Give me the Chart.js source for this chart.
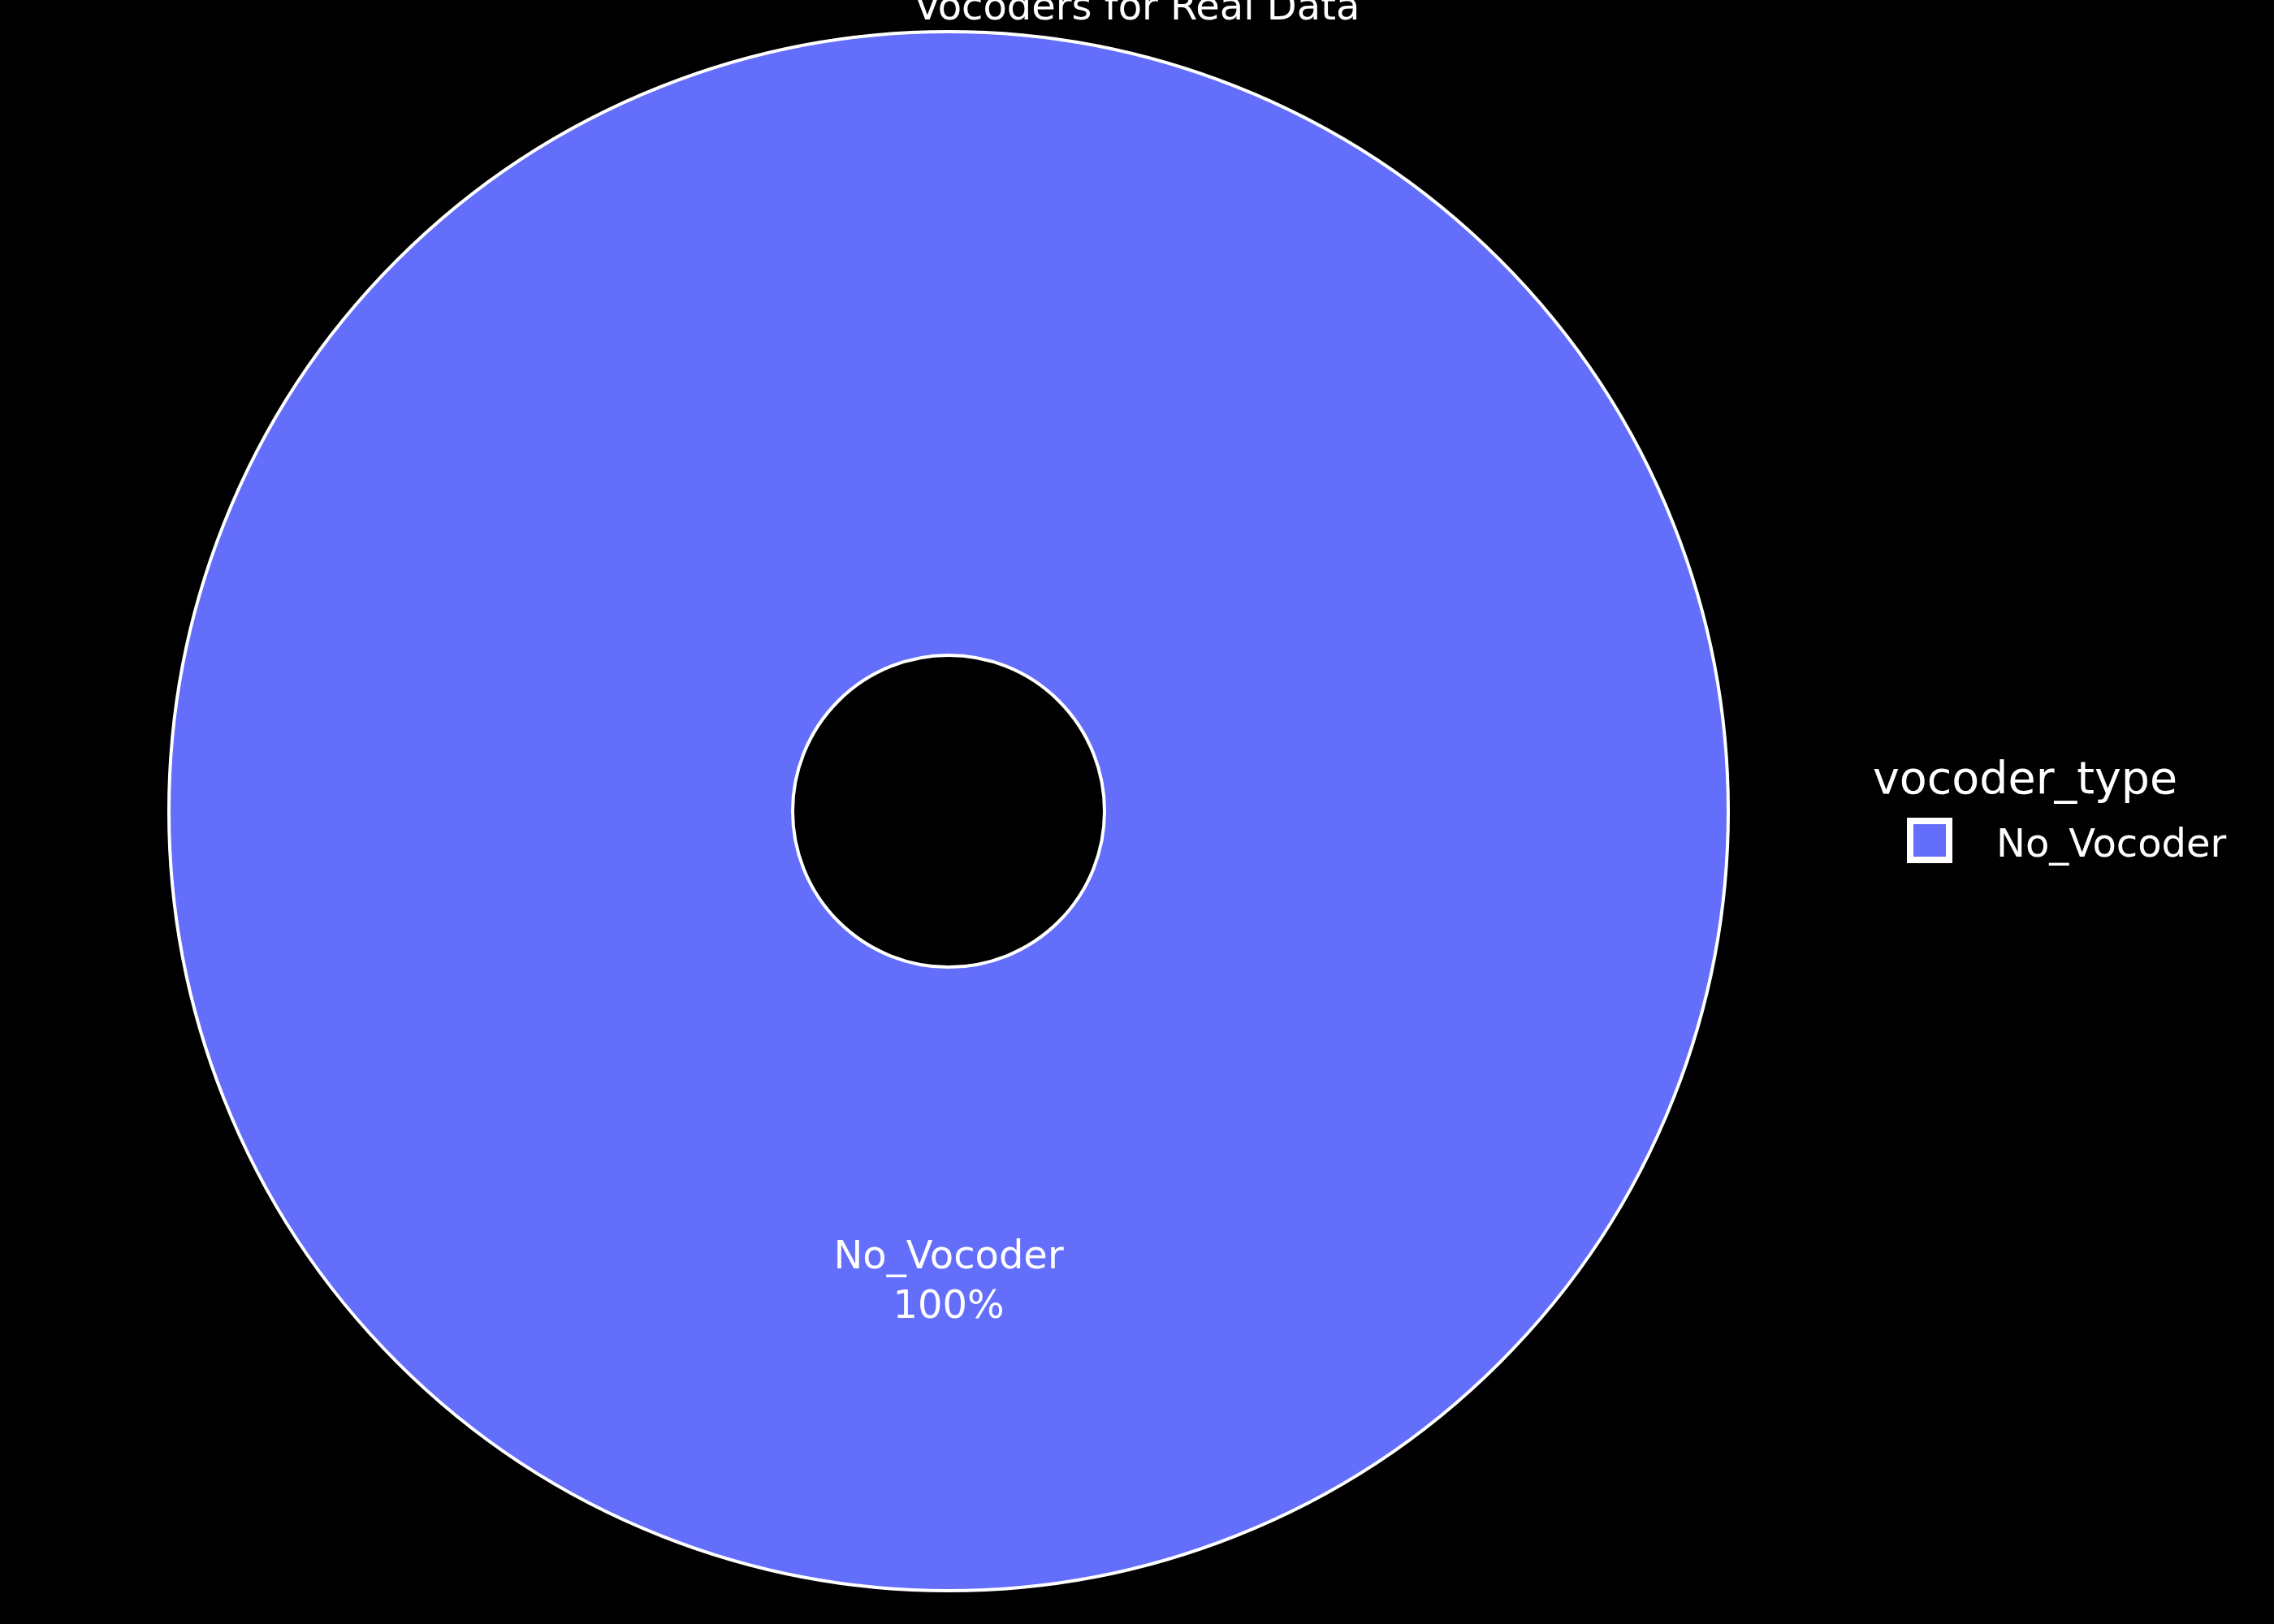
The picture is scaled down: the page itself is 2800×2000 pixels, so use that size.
<!DOCTYPE html>
<html>
<head>
<meta charset="utf-8">
<script src="https://cdn.jsdelivr.net/npm/chart.js@4"></script>
<style>
  html, body { margin: 0; padding: 0; background: #000; }
</style>
</head>
<body>
<canvas id="pieChart" width="2800" height="2000"></canvas>
<script>
const categories = ["No_Vocoder"];
const counts = [1];
const sliceColors = ["#636efa"];
const chartTitle = "Vocoders for Real Data";
const legendTitle = "vocoder_type";

const FONT = "'DejaVu Sans', sans-serif";

// white outline on the ring + slice text (label and percent)
const ringDecor = {
  id: "ringDecor",
  afterDatasetsDraw(chart) {
    const ctx = chart.ctx;
    const meta = chart.getDatasetMeta(0);
    const total = counts.reduce((a, b) => a + b, 0);
    ctx.save();
    meta.data.forEach((arc, i) => {
      ctx.strokeStyle = "#ffffff";
      ctx.lineWidth = 4;
      ctx.beginPath();
      ctx.arc(arc.x, arc.y, arc.outerRadius, 0, Math.PI * 2);
      ctx.stroke();
      ctx.beginPath();
      ctx.arc(arc.x, arc.y, arc.innerRadius, 0, Math.PI * 2);
      ctx.stroke();

      const p = arc.getCenterPoint();
      const pct = Math.round(counts[i] / total * 100) + "%";
      ctx.fillStyle = "#ffffff";
      ctx.font = "48px " + FONT;
      ctx.textAlign = "center";
      ctx.textBaseline = "alphabetic";
      ctx.fillText(categories[i], p.x, p.y - 13);
      ctx.fillText(pct, p.x, p.y + 48);
    });
    ctx.restore();
  }
};

// plotly-like title centred on the page and legend on the right
const pageText = {
  id: "pageText",
  afterDraw(chart) {
    const ctx = chart.ctx;
    const area = chart.chartArea;
    ctx.save();
    ctx.fillStyle = "#ffffff";
    ctx.textBaseline = "alphabetic";

    ctx.font = "48px " + FONT;
    ctx.textAlign = "center";
    ctx.fillText(chartTitle, chart.width / 2, 24);

    ctx.textAlign = "left";
    ctx.font = "55.5px " + FONT;
    const lx = area.right;
    ctx.fillText(legendTitle, lx, 977);

    categories.forEach((name, i) => {
      const y = 1011 + i * 70;
      ctx.fillStyle = sliceColors[i];
      ctx.fillRect(lx + 46, y, 48, 48);
      ctx.strokeStyle = "#ffffff";
      ctx.lineWidth = 8;
      ctx.strokeRect(lx + 46, y, 48, 48);
      ctx.fillStyle = "#ffffff";
      ctx.font = "48px " + FONT;
      ctx.fillText(name, lx + 152, y + 44);
    });
    ctx.restore();
  }
};

new Chart(document.getElementById("pieChart"), {
  type: "doughnut",
  data: {
    labels: categories,
    datasets: [{
      data: counts,
      backgroundColor: sliceColors,
      borderWidth: 0
    }]
  },
  options: {
    responsive: false,
    devicePixelRatio: 1,
    animation: false,
    cutout: "20%",
    layout: { padding: { top: 39, bottom: 41, left: 30, right: 494 } },
    plugins: {
      title: { display: false },
      legend: { display: false },
      tooltip: { enabled: false }
    }
  },
  plugins: [ringDecor, pageText]
});
</script>
</body>
</html>
